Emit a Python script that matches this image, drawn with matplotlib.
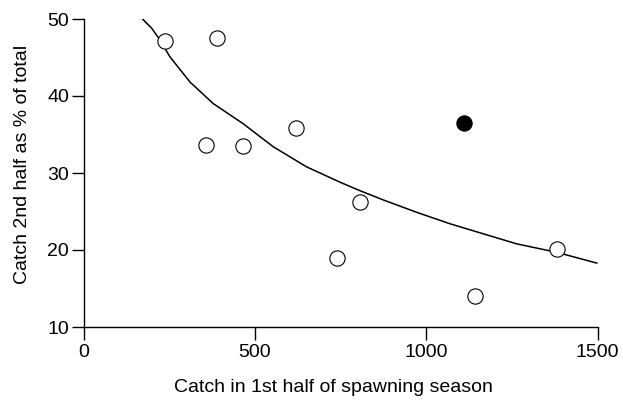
import matplotlib
matplotlib.use('Agg')
import matplotlib.pyplot as plt

# catch in 1st half vs catch in 2nd half (% of total)
catch_first = [238, 389, 357, 465, 619, 807, 739, 1142, 1381]
pct_second = [47.1, 47.5, 33.7, 33.5, 35.8, 26.2, 19.0, 14.0, 20.1]

# highlighted year (filled)
hl_first = [1111]
hl_second = [36.5]

# fitted curve
curve_x = [170, 199, 223, 252, 311, 379, 466, 554, 651, 749, 807, 875,
           972, 1070, 1152, 1264, 1381, 1498]
curve_y = [50.1, 48.8, 47.3, 45.1, 41.8, 39.0, 36.4, 33.4, 30.8, 28.8, 27.7,
           26.5, 24.9, 23.4, 22.3, 20.8, 19.7, 18.3]

xticks = [0, 500, 1000, 1500]
yticks = [10, 20, 30, 40, 50]

plt.rcParams['font.family'] = ['Liberation Sans', 'DejaVu Sans']

W, H = 623, 400
fig = plt.figure(figsize=(W / 100, H / 100), dpi=100)
ax = fig.add_axes([83.5 / W, (H - 327) / H, 514 / W, 308 / H])

ax.plot(curve_x, curve_y, color='black', lw=1.1, zorder=2)
ax.plot(catch_first, pct_second, 'o', ms=11, mfc='white', mec='black',
        mew=0.8, zorder=3)
ax.plot(hl_first, hl_second, 'o', ms=11, mfc='black', mec='black',
        mew=0.8, zorder=3)

ax.set_xlim(0, 1500)
ax.set_ylim(10, 50)
ax.set_xticks(xticks)
ax.set_yticks(yticks)
ax.spines['top'].set_visible(False)
ax.spines['right'].set_visible(False)
for s in ('left', 'bottom'):
    ax.spines[s].set_linewidth(1.0)
ax.tick_params(direction='out', length=9, width=1.0, labelsize=14)
ax.tick_params(axis='x', pad=3.5)
ax.tick_params(axis='y', pad=1.5)

fig.text(333 / W, 1 - 388 / H, 'Catch in 1st half of spawning season',
         fontsize=14, ha='center', va='center')
fig.text(23 / W, 1 - 164 / H, 'Catch 2nd half as % of total',
         fontsize=14, ha='center', va='center', rotation=90)

fig.savefig('out.png', dpi=100)
